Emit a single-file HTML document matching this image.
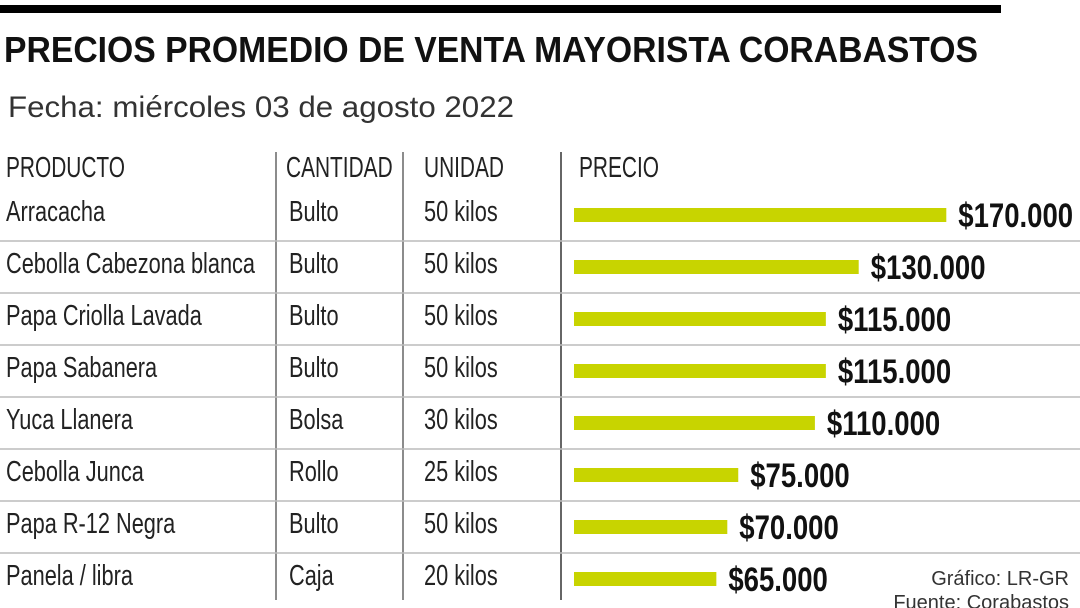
<!DOCTYPE html>
<html><head><meta charset="utf-8"><style>
html,body{margin:0;padding:0;background:#fff;width:1080px;height:608px;overflow:hidden}
svg{display:block;font-family:"Liberation Sans",sans-serif}
</style></head><body>
<svg id="chart" width="1080" height="608" viewBox="0 0 1080 608" xmlns="http://www.w3.org/2000/svg">
<rect x="0" y="5" width="1001" height="8" fill="#000"/>
<text x="4" y="62" font-size="36" font-weight="bold" fill="#111" textLength="974" lengthAdjust="spacingAndGlyphs">PRECIOS PROMEDIO DE VENTA MAYORISTA CORABASTOS</text>
<text x="8" y="117" font-size="30" fill="#333" textLength="506" lengthAdjust="spacingAndGlyphs">Fecha: miércoles 03 de agosto 2022</text>
<line x1="276" y1="152" x2="276" y2="600" stroke="#666" stroke-width="1.5"/>
<line x1="403" y1="152" x2="403" y2="600" stroke="#666" stroke-width="1.5"/>
<line x1="561" y1="152" x2="561" y2="600" stroke="#333" stroke-width="1.5"/>
<g id="rows"></g>
<text x="1069" y="585" font-size="20" fill="#333" text-anchor="end">Gráfico: LR-GR</text>
<text x="1069" y="609" font-size="20" fill="#333" text-anchor="end">Fuente: Corabastos</text>
</svg>
<script>
const products = ["Arracacha","Cebolla Cabezona blanca","Papa Criolla Lavada","Papa Sabanera","Yuca Llanera","Cebolla Junca","Papa R-12 Negra","Panela / libra"];
const quantities = ["Bulto","Bulto","Bulto","Bulto","Bolsa","Rollo","Bulto","Caja"];
const units = ["50 kilos","50 kilos","50 kilos","50 kilos","30 kilos","25 kilos","50 kilos","20 kilos"];
const prices = [170000,130000,115000,115000,110000,75000,70000,65000];
const priceLabels = ["$170.000","$130.000","$115.000","$115.000","$110.000","$75.000","$70.000","$65.000"];
const headers = ["PRODUCTO","CANTIDAD","UNIDAD","PRECIO"];

const NS = "http://www.w3.org/2000/svg";
const g = document.getElementById('rows');
const x0 = 574, pxPerUnit = 2.19/1000;
const xScale = v => x0 + v * pxPerUnit;
const rowY = i => 221 + i * 52;

function ctext(x, y, str, size, sx, weight, fill, name) {
  const w = document.createElementNS(NS, 'g');
  w.setAttribute('transform', `translate(${x},${y}) scale(${sx},1)`);
  const t = document.createElementNS(NS, 'text');
  
  
  t.setAttribute('font-size', size);
  if (weight) t.setAttribute('font-weight', weight);
  t.setAttribute('fill', fill);
  t.textContent = str;
  w.appendChild(t);
  g.appendChild(w);
}
const colX = [6, 286, 424, 579];
headers.forEach((h, i) => {
  ctext(colX[i], 177, h, 29, 0.72, null, '#222', 'column-header');
});
products.forEach((p, i) => {
  const y = rowY(i);
  ctext(6, y, p, 29, 0.75, null, '#222', 'product-name');
  ctext(289, y, quantities[i], 29, 0.75, null, '#222', 'quantity-cell');
  ctext(424, y, units[i], 29, 0.75, null, '#222', 'unit-cell');
  const r = document.createElementNS(NS, 'rect');
  
  
  r.setAttribute('x', x0);
  r.setAttribute('y', y - 13);
  r.setAttribute('width', xScale(prices[i]) - x0);
  r.setAttribute('height', 14);
  r.setAttribute('fill', '#c8d400');
  g.appendChild(r);
  ctext(xScale(prices[i]) + 12, y + 6, priceLabels[i], 34, 0.81, 'bold', '#111', 'price-label');
  if (i < products.length - 1) {
    const l = document.createElementNS(NS, 'line');
    
    
    l.setAttribute('x1', 0); l.setAttribute('x2', 1080);
    l.setAttribute('y1', y + 20); l.setAttribute('y2', y + 20);
    l.setAttribute('stroke', '#bbb'); l.setAttribute('stroke-width', 1.5);
    g.appendChild(l);
  }
});
</script>
</body></html>
